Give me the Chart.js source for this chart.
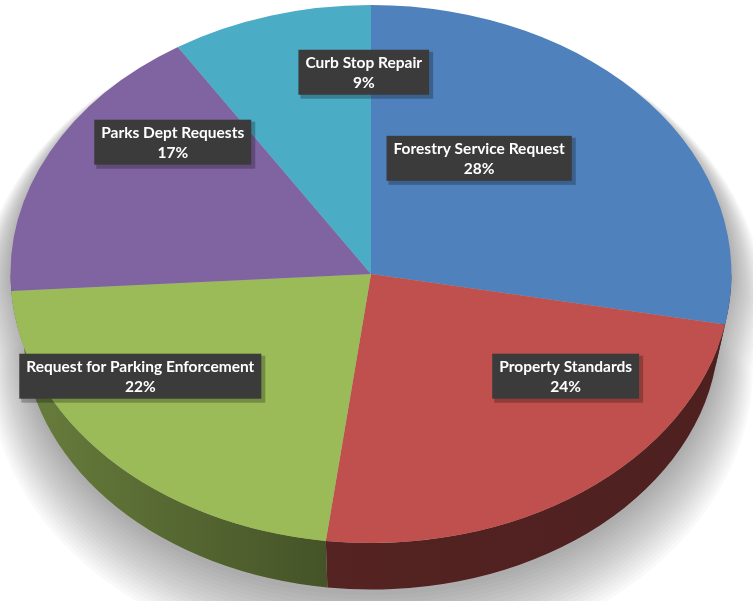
<!DOCTYPE html>
<html>
<head>
<meta charset="utf-8">
<script src="https://cdn.jsdelivr.net/npm/chart.js@4/dist/chart.umd.min.js"></script>
<style>
  body { margin: 0; background: #fff; }
  #wrap { width: 753px; height: 601px; }
</style>
</head>
<body>
<div id="wrap"><canvas id="requestPie" width="753" height="601"></canvas></div>
<script>
const categories = [
    'Forestry Service Request',
    'Property Standards',
    'Request for Parking Enforcement',
    'Parks Dept Requests',
    'Curb Stop Repair'
];
const shares = [28, 24, 22, 17, 9];
const sliceColors = ['#4f81bd', '#c0504d', '#9bbb59', '#8064a2', '#4bacc6'];

// where each label box sits, as a fraction of the ellipse radii from its centre
const labelSpots = [[0.30, -0.43], [0.54, 0.38], [-0.64, 0.38], [-0.55, -0.49], [-0.02, -0.75]];

const ASPECT = 1.34;   // horizontal stretch of the tilted pie
const DEPTH = 56;      // thickness of the side wall
const SHRINK = 0.965;  // bottom rim slightly smaller (perspective)

function shade(hex, f) {
    const n = parseInt(hex.slice(1), 16);
    const r = Math.round(((n >> 16) & 255) * f);
    const g = Math.round(((n >> 8) & 255) * f);
    const b = Math.round((n & 255) * f);
    return `rgb(${r},${g},${b})`;
}

function geom(chart) {
    const arc = chart.getDatasetMeta(0).data[0];
    const ry = arc.outerRadius;
    return { cx: arc.x, cy: arc.y, rx: ry * ASPECT, ry: ry, r: arc.outerRadius };
}

// outline of the whole disc (top face + wall), grown by `grow` px and moved down by `dy`
function discOutline(ctx, g, grow, dy) {
    ctx.beginPath();
    ctx.ellipse(g.cx, g.cy + dy, g.rx + grow, g.ry + grow, 0, Math.PI, 0);
    ctx.ellipse(g.cx, g.cy + DEPTH + dy, g.rx * SHRINK + grow, g.ry * SHRINK + grow, 0, 0, Math.PI);
    ctx.closePath();
}

const tiltedPie = {
    id: 'tiltedPie',
    beforeDatasetsDraw(chart) {
        const ctx = chart.ctx;
        const g = geom(chart);
        const arcs = chart.getDatasetMeta(0).data;

        // soft drop shadow: each ring grows and sinks, so it stays hidden behind the far rim
        ctx.save();
        ctx.fillStyle = 'rgba(0,0,0,0.024)';
        for (let k = 34; k >= 0; k -= 2) {
            discOutline(ctx, g, k, k + 6);
            ctx.fill();
        }
        ctx.restore();

        // side walls for the slices on the near half
        arcs.forEach((a, i) => {
            const s = Math.max(a.startAngle, 0);
            const e = Math.min(a.endAngle, Math.PI);
            if (e <= s) return;
            const grad = ctx.createLinearGradient(g.cx - g.rx, 0, g.cx + g.rx, 0);
            grad.addColorStop(0, shade(sliceColors[i], 0.68));
            grad.addColorStop(0.45, shade(sliceColors[i], 0.44));
            grad.addColorStop(1, shade(sliceColors[i], 0.4));
            ctx.fillStyle = grad;
            ctx.beginPath();
            ctx.ellipse(g.cx, g.cy, g.rx, g.ry, 0, s, e);
            ctx.ellipse(g.cx, g.cy + DEPTH, g.rx * SHRINK, g.ry * SHRINK, 0, e, s, true);
            ctx.closePath();
            ctx.fill();
        });

        // stretch the flat pie into the top face
        ctx.save();
        ctx.translate(g.cx, g.cy);
        ctx.scale(g.rx / g.r, g.ry / g.r);
        ctx.translate(-g.cx, -g.cy);
    },
    afterDatasetsDraw(chart) {
        const ctx = chart.ctx;
        ctx.restore();
        const g = geom(chart);

        ctx.save();
        ctx.font = 'bold 15.5px Lato, "Open Sans", sans-serif';
        ctx.textAlign = 'center';
        ctx.textBaseline = 'middle';
        categories.forEach((name, i) => {
            const x = g.cx + labelSpots[i][0] * g.rx;
            const y = g.cy + labelSpots[i][1] * g.ry;
            const pct = shares[i] + '%';
            const w = Math.max(ctx.measureText(name).width, ctx.measureText(pct).width) + 14;
            const h = 45;
            // box shadow
            ctx.fillStyle = 'rgba(0,0,0,0.25)';
            ctx.fillRect(x - w / 2 + 2, y - h / 2 + 2, w + 2, h + 2);
            ctx.fillStyle = '#3b3b3b';
            ctx.fillRect(x - w / 2, y - h / 2, w, h);
            ctx.fillStyle = '#ffffff';
            ctx.fillText(name, x, y - 9);
            ctx.fillText(pct, x, y + 11);
        });
        ctx.restore();
    }
};

new Chart(document.getElementById('requestPie'), {
    type: 'pie',
    data: {
        labels: categories,
        datasets: [{
            data: shares,
            backgroundColor: sliceColors,
            borderWidth: 0,
            hoverOffset: 0
        }]
    },
    options: {
        responsive: false,
        animation: false,
        layout: { padding: { top: 5, bottom: 58, left: 0, right: 11 } },
        plugins: {
            legend: { display: false },
            tooltip: { enabled: false }
        }
    },
    plugins: [tiltedPie]
});
</script>
</body>
</html>
